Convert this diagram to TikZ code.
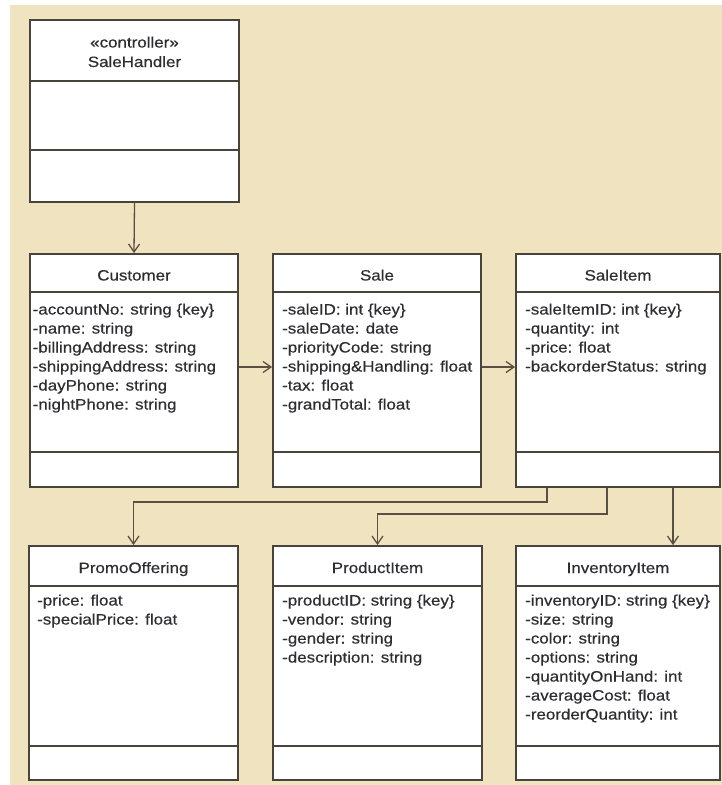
\documentclass[tikz,border=0pt]{standalone}
\usepackage{fontspec}
\setmainfont{Liberation Sans}[FakeStretch=1.13,FakeBold=0.4]
\usetikzlibrary{arrows.meta}
\definecolor{bgbeige}{RGB}{240,228,192}
\definecolor{boxline}{RGB}{72,68,60}
\definecolor{txt}{RGB}{45,45,50}
\definecolor{arrcol}{RGB}{90,80,65}
\begin{document}
\begin{tikzpicture}[x=1pt,y=-1pt,
  cls/.style={draw=boxline, line width=1.8pt, fill=white, inner sep=0pt},
  divline/.style={draw=boxline, line width=1.8pt},
  ttl/.style={anchor=base, inner sep=0pt, text=txt, font=\fontsize{15}{19}\selectfont},
  attr/.style={anchor=base west, inner sep=0pt, text=txt, font=\fontsize{15}{19}\selectfont},
  arr/.style={draw=arrcol, line width=1.3pt, -{Straight Barb[length=8pt,width=11pt]}}]
\useasboundingbox (0,0) rectangle (722,785);
\fill[white] (0,0) rectangle (722,785);
\fill[bgbeige] (10,5) rectangle (722,785);

% class boxes
\node[cls, minimum width=209pt, minimum height=182pt] (handler) at (134.5,111) {};
\node[cls, minimum width=208pt, minimum height=233pt] (cust) at (134,370.5) {};
\node[cls, minimum width=208pt, minimum height=233pt] (sale) at (377,370.5) {};
\node[cls, minimum width=204pt, minimum height=233pt] (item) at (618,370.5) {};
\node[cls, minimum width=209pt, minimum height=234pt] (promo) at (133.5,663) {};
\node[cls, minimum width=209pt, minimum height=234pt] (prod) at (377.5,663) {};
\node[cls, minimum width=204pt, minimum height=234pt] (inv) at (618,663) {};

% compartment dividers
\draw[divline] (30,81) -- (239,81);
\draw[divline] (30,150) -- (239,150);
\foreach \xa/\xb in {30/238,273/481,516/720}{
  \draw[divline] (\xa,292) -- (\xb,292);
  \draw[divline] (\xa,452) -- (\xb,452);
}
\foreach \xa/\xb in {29/238,273/482,516/720}{
  \draw[divline] (\xa,586) -- (\xb,586);
  \draw[divline] (\xa,746) -- (\xb,746);
}

% titles
\node[ttl] (handler-st) at (134.5,47.5) {«controller»};
\node[ttl] (handler-t) at (134.5,67) {SaleHandler};
\node[ttl] (cust-t) at (134,280.5) {Customer};
\node[ttl] (sale-t) at (377,280.5) {Sale};
\node[ttl] (item-t) at (618,280.5) {SaleItem};
\node[ttl] (promo-t) at (133.5,573) {PromoOffering};
\node[ttl] (prod-t) at (377.5,573) {ProductItem};
\node[ttl] (inv-t) at (618,573) {InventoryItem};

% attributes
\foreach \t [count=\i] in {-accountNo: string \{key\}, -name: string, -billingAddress: string, -shippingAddress: string, -dayPhone: string, -nightPhone: string}
  \node[attr] (cust-a\i) at (32.5,{314.5+19*(\i-1)}) {\t};
\foreach \t [count=\i] in {-saleID: int \{key\}, -saleDate: date, -priorityCode: string, -shipping\&Handling: float, -tax: float, -grandTotal: float}
  \node[attr] (sale-a\i) at (282,{314.5+19*(\i-1)}) {\t};
\foreach \t [count=\i] in {-saleItemID: int \{key\}, -quantity: int, -price: float, -backorderStatus: string}
  \node[attr] (item-a\i) at (525,{314.5+19*(\i-1)}) {\t};
\foreach \t [count=\i] in {-price: float, -specialPrice: float}
  \node[attr] (promo-a\i) at (37,{605.5+19*(\i-1)}) {\t};
\foreach \t [count=\i] in {-productID: string \{key\}, -vendor: string, -gender: string, -description: string}
  \node[attr] (prod-a\i) at (282,{605.5+19*(\i-1)}) {\t};
\foreach \t [count=\i] in {-inventoryID: string \{key\}, -size: string, -color: string, -options: string, -quantityOnHand: int, -averageCost: float, -reorderQuantity: int}
  \node[attr] (inv-a\i) at (525,{605.5+19*(\i-1)}) {\t};

% connectors
\draw[arr] (handler.south) -- (cust.north);
\draw[arr] ([yshift=3.5pt]cust.east) -- ([yshift=3.5pt]sale.west);
\draw[arr] ([yshift=3.5pt]sale.east) -- ([yshift=3.5pt]item.west);
\draw[arr] ([xshift=-71pt]item.south) -- ++(0,14) -| (promo.north);
\draw[arr] ([xshift=-11pt]item.south) -- ++(0,26) -| (prod.north);
\draw[arr] ([xshift=55pt]item.south) -- ([xshift=55pt]inv.north);
\end{tikzpicture}
\end{document}
